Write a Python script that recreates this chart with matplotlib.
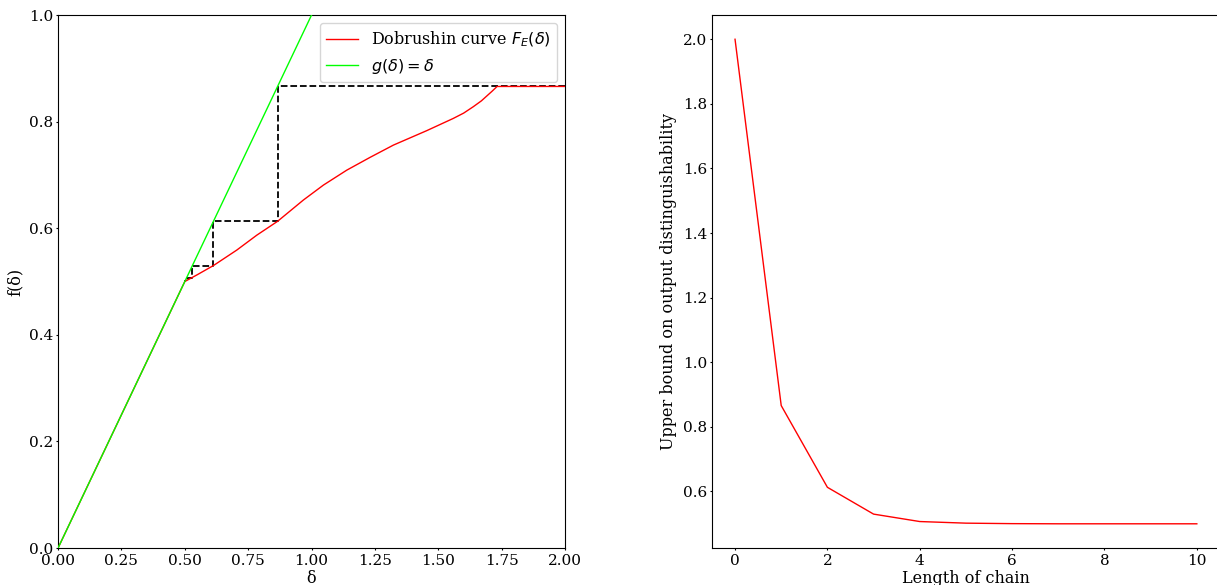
import numpy as np
import matplotlib
matplotlib.use('Agg')
import matplotlib.pyplot as plt

plt.rcParams['font.family'] = 'serif'
plt.rcParams['font.size'] = 11.5
plt.rcParams['xtick.labelsize'] = 11
plt.rcParams['ytick.labelsize'] = 11
plt.rcParams['xtick.major.size'] = 1.5
plt.rcParams['ytick.major.size'] = 1.5
plt.rcParams['xtick.major.pad'] = 3
plt.rcParams['ytick.major.pad'] = 2

# Dobrushin curve F_E(delta), sampled
delta_pts = [0.0, 0.5, 0.55, 0.613, 0.705, 0.784, 0.866, 0.968, 1.047, 1.139,
             1.231, 1.323, 1.454, 1.559, 1.600, 1.638, 1.670, 1.691, 1.712, 1.732, 2.0]
f_pts = [0.0, 0.5, 0.513, 0.530, 0.559, 0.587, 0.613, 0.653, 0.681, 0.709,
         0.733, 0.756, 0.783, 0.806, 0.816, 0.828, 0.839, 0.848, 0.857, 0.866, 0.866]

# upper bound after each link of the chain
chain_len = [0, 1, 2, 3, 4, 5, 6, 7, 8, 9, 10]
bound = [2.0, 0.866, 0.613, 0.530, 0.507, 0.502, 0.5005, 0.5, 0.5, 0.5, 0.5]

fig = plt.figure(figsize=(12.17, 5.85), dpi=100)
ax1 = fig.add_axes([0.0477, 0.0632, 0.4166, 0.9111])
ax2 = fig.add_axes([0.5850, 0.0632, 0.4174, 0.9111])

ax1.plot(delta_pts, f_pts, color='red', lw=1, label=r'Dobrushin curve $F_E(\delta)$', zorder=3)
ax1.plot([0, 2], [0, 2], color='lime', lw=1, label=r'$g(\delta) = \delta$', zorder=4)

# cobweb iteration between the curve and the diagonal
cx = [bound[0]]
cy = [bound[1]]
for n in range(1, len(bound) - 1):
    cx += [bound[n], bound[n]]
    cy += [bound[n], bound[n + 1]]
ax1.plot(cx, cy, 'k--', lw=1.3, zorder=2)

ax1.set_xlim(0, 2)
ax1.set_ylim(0, 1)
ax1.set_xlabel('δ', labelpad=1)
ax1.set_ylabel('f(δ)')
ax1.legend(loc='upper right')

ax2.plot(chain_len, bound, color='red', lw=1)
ax2.set_xlabel('Length of chain', labelpad=1)
ax2.set_ylabel('Upper bound on output distinguishability')

fig.savefig('out.png', dpi=100)
